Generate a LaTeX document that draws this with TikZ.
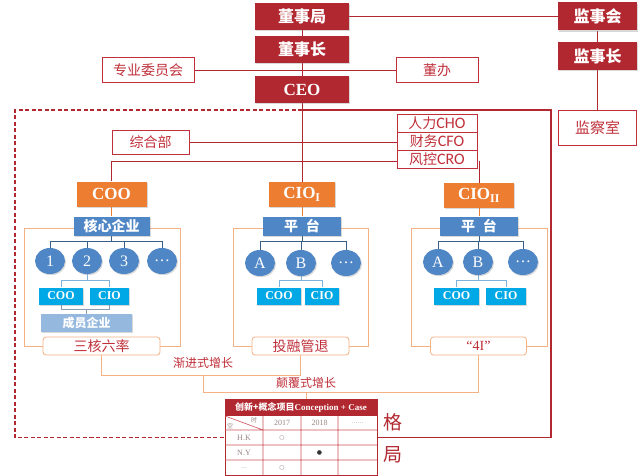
\documentclass[tikz,border=0pt]{standalone}
\usepackage{fontspec}
\setmainfont{Liberation Serif}
\newfontfamily\cjk{Noto Sans CJK SC}
\newfontfamily\dejavu{DejaVu Sans}
\newfontfamily\carlito{Carlito}
\usetikzlibrary{shapes.geometric,shadows,backgrounds}
\newcommand\fsz[1]{\fontsize{#1}{#1}\selectfont}
\definecolor{dred}{HTML}{B22830}
\definecolor{lred}{HTML}{C0303A}
\definecolor{orangeC}{HTML}{ED7D31}
\definecolor{blueC}{HTML}{4F86C6}
\definecolor{cyanC}{HTML}{00A8E6}
\definecolor{memC}{HTML}{95B8DE}
\definecolor{frameO}{HTML}{F4B183}
\definecolor{treeC}{HTML}{3A5F85}
\definecolor{ltblue}{HTML}{7FB3DC}
\definecolor{greyB}{HTML}{8A9BB0}
\definecolor{tgrey}{HTML}{9A8585}
\definecolor{gridC}{HTML}{D0505A}
\begin{document}
\begin{tikzpicture}[x=1pt,y=-1pt,
  shd/.style={drop shadow={shadow xshift=1pt,shadow yshift=-1.2pt,opacity=0.3}},
  redbox/.style={shd,fill=dred,text=white,font=\cjk\bfseries\fsz{16},inner sep=0pt,minimum height=27pt},
  outbox/.style={draw=lred,line width=0.8pt,fill=white,text=lred,font=\cjk\fsz{14},inner sep=0pt},
  obox/.style={shd,fill=orangeC,text=white,font=\bfseries\fsz{17},minimum height=25pt,inner sep=0pt},
  bbox/.style={shd,fill=blueC,text=white,font=\cjk\bfseries\fsz{14},minimum height=19pt,inner sep=0pt},
  circ/.style={shd,ellipse,fill=blueC,text=white,font=\fsz{16},minimum width=30pt,minimum height=26pt,inner sep=0pt},
  cbox/.style={shd,fill=cyanC,text=white,font=\bfseries\fsz{12},minimum height=17pt,inner sep=0pt},
  rbox/.style={draw=frameO,line width=0.8pt,rounded corners=3pt,fill=white,text=lred,font=\cjk\fsz{14},minimum height=18pt,inner sep=0pt},
  lbl/.style={text=lred,font=\cjk\fsz{12},inner sep=0pt},
  tcell/.style={text=tgrey,font=\fsz{8},inner sep=0pt},
  rl/.style={draw=dred,line width=0.8pt},
  ol/.style={draw=orangeC,line width=0.8pt},
  tl/.style={draw=treeC,line width=0.8pt},
  bl/.style={draw=ltblue,line width=0.8pt},
  gl/.style={draw=greyB,line width=0.8pt},
  brk/.style={draw=frameO,line width=0.9pt},
  fo/.style={draw=frameO,line width=0.9pt}
]
\useasboundingbox (0,0) rectangle (640,476);
% top level
\node[redbox,minimum width=94pt] (dsj) at (302,16.5) {董事局};
\node[redbox,minimum width=79pt,minimum height=28pt] (jsh) at (597.5,16.5) {监事会};
\node[redbox,minimum width=94pt,minimum height=27pt] (dsz) at (302,49.5) {董事长};
\node[redbox,minimum width=79pt,minimum height=28pt] (jsz) at (597.5,56) {监事长};
\node[outbox,minimum width=92pt,minimum height=25pt] (zy) at (148,70) {专业委员会};
\node[outbox,minimum width=82pt,minimum height=25pt] (db) at (437,70) {董办};
\node[redbox,font=\bfseries\fsz{17},minimum width=94pt] (ceo) at (302,89.5) {CEO};
\node[outbox,minimum width=78pt,minimum height=35pt,font=\cjk\fsz{15}] (jcs) at (597.5,127.5) {监察室};
\node[outbox,minimum width=80pt,minimum height=18pt,font=\cjk\fsz{14}] (cho) at (437,123) {人力{\carlito\fsz{16}CHO}};
\node[outbox,minimum width=80pt,minimum height=18pt,font=\cjk\fsz{14}] (cfo) at (437,141) {财务{\carlito\fsz{16}CFO}};
\node[outbox,minimum width=80pt,minimum height=18pt,font=\cjk\fsz{14}] (cro) at (437,159) {风控{\carlito\fsz{16}CRO}};
\node[outbox,minimum width=77pt,minimum height=24pt] (zhb) at (150.5,142) {综合部};
% orange heads
\node[obox,minimum width=70pt] (coo) at (111.5,194) {COO};
\node[obox,minimum width=66pt] (cio1) at (302,194.5) {CIO\textsubscript{I}};
\node[obox,minimum width=70pt] (cio2) at (479,195.5) {CIO\textsubscript{II}};
% blue
\node[bbox,minimum width=76pt] (hx) at (111.5,226) {核心企业};
\node[bbox,minimum width=78pt] (pt1) at (302,226) {平\hspace{8pt}台};
\node[bbox,minimum width=78pt] (pt2) at (479,226) {平\hspace{8pt}台};
% circles
\node[circ] (c1) at (50,261) {1};
\node[circ] (c2) at (87,261) {2};
\node[circ] (c3) at (124,261) {3};
\node[circ] (c4) at (162,261) {…};
\node[circ] (ma) at (260,263) {A};
\node[circ] (mb) at (301,263) {B};
\node[circ] (mc) at (346,263) {…};
\node[circ] (ra) at (438,262) {A};
\node[circ] (rb) at (478,262) {B};
\node[circ] (rc) at (523,262) {…};
% small boxes
\node[cbox,minimum width=44pt] (lcoo) at (61,296) {COO};
\node[cbox,minimum width=39pt] (lcio) at (109.5,296) {CIO};
\node[cbox,minimum width=44pt] (mcoo) at (279,296) {COO};
\node[cbox,minimum width=34pt] (mcio) at (322,296) {CIO};
\node[cbox,minimum width=45pt] (rcoo) at (456.5,296) {COO};
\node[cbox,minimum width=40pt] (rcio) at (506,296) {CIO};
\node[shd,fill=memC,text=white,font=\cjk\bfseries\fsz{12},minimum width=91pt,minimum height=18pt,inner sep=0pt] (cy) at (86.5,323) {成员企业};
% results
\node[rbox,minimum width=117pt] (shl) at (101.5,346) {三核六率};
\node[rbox,minimum width=97pt] (trg) at (300.5,346) {投融管退};
\node[rbox,minimum width=96pt,font=\fsz{14}] (fi) at (478.5,346) {“4I”};
\node[lbl] (jj) at (203,363) {渐进式增长};
\node[lbl] (df) at (306,383) {颠覆式增长};
% table
\node[draw=dred,line width=1pt,minimum width=152pt,minimum height=76pt,inner sep=0pt] (tbl) at (301,437.5) {};
\fill[dred] (tbl.north west) rectangle (377,416);
\node[text=white,inner sep=0pt] (th) at (301,408) {{\cjk\bfseries\fsz{9}创新+概念项目}{\bfseries\fsz{9}Conception + Case}};
\draw[draw=gridC,line width=0.6pt] (225,430) -- (377,430) (225,445) -- (377,445) (225,460) -- (377,460)
  (263,416) -- (263,475.5) (301,416) -- (301,475.5) (338,416) -- (338,475.5) (225,416) -- (263,430);
\node[tcell,font=\cjk\fsz{6}] (tsh) at (254,420) {时};
\node[tcell,font=\cjk\fsz{6}] (tkg) at (230,426) {空};
\node[tcell] (y17) at (282,423) {2017};
\node[tcell] (y18) at (319.5,423) {2018};
\node[tcell,font=\fsz{6}] (ydd) at (357.5,423) {……};
\node[tcell] (hk) at (244,437.5) {H.K};
\node[tcell] (ny) at (244,452.5) {N.Y};
\node[tcell,font=\fsz{6}] (dd) at (244,468) {…};
\node[tcell,font=\dejavu\fsz{6}] (m1) at (282,437.5) {○};
\node[text=black!80,inner sep=0pt,font=\dejavu\fsz{6}] (m2) at (319.5,452.5) {●};
\node[tcell,font=\dejavu\fsz{6}] (m3) at (282,468) {○};
\node[text=dred,font=\cjk\fsz{19},inner sep=0pt] (ge) at (393,422) {格};
\node[text=dred,font=\cjk\fsz{19},inner sep=0pt] (ju) at (393,455) {局};
% coordinates
\coordinate (fA) at (302,110);
\coordinate (fB) at (15,110);
\coordinate (fC) at (15,437.5);
\coordinate (fD) at (551,110);
\coordinate (fE) at (551,437.5);
\coordinate (b1) at (101.5,375);
\coordinate (b2) at (300.5,375);
\coordinate (b3) at (203,375);
\coordinate (b4) at (203,392);
\coordinate (b5) at (478.5,392);
\coordinate (b6) at (306,392);
\begin{scope}[on background layer]
\fill[white] (0,0) rectangle (640,476);
% frames
\draw[fo] (24,228) rectangle (180,346);
\draw[fo] (233,228) rectangle (368,346);
\draw[fo] (411,228) rectangle (547,346);
\draw[dred,line width=1.2pt,dash pattern=on 4pt off 2.5pt] (fA) -- (fB) -- (fC) -- (tbl.west);
\draw[dred,line width=1.2pt] (fA) -- (fD) -- (fE) -- (tbl.east);
% top connectors
\draw[rl] (dsj) -- (jsh);
\draw[rl] (dsj) -- (cio1);
\draw[rl] (zy) -- (db);
\draw[rl] (jsh) -- (jcs);
\draw[rl] (zhb.east) -- (zhb.east -| cfo.west);
\draw[rl] ([yshift=-2pt]cro.west) -| (coo.north);
\draw[rl] (cio2.north) -- ([yshift=-2pt]cio2.north |- cro.east);
% orange
\draw[ol] (coo) -- (hx);
\draw[ol] (cio1) -- (pt1);
\draw[ol] (cio2) -- (pt2);
% trees
\draw[tl] (hx.south) -- ++(0,6.5);
\draw[tl] (c1.north) -- ++(0,-6) -| (c4.north);
\draw[tl] (c2.north) -- ++(0,-6);
\draw[tl] (c3.north) -- ++(0,-6);
\draw[tl] (pt1.south) -- ++(0,6.5);
\draw[tl] (ma.north) -- ++(0,-8) -| (mc.north);
\draw[tl] (mb.north) -- ++(0,-8);
\draw[tl] (pt2.south) -- ++(0,6.5);
\draw[tl] (ra.north) -- ++(0,-7) -| (rc.north);
\draw[tl] (rb.north) -- ++(0,-7);
% light blue
\draw[bl] (c2.south) -- ++(0,7);
\draw[bl] (lcoo.north) -- ++(0,-6.5) -| (lcio.north);
\draw[bl] (mb.south) -- ++(0,5);
\draw[bl] (mcoo.north) -- ++(0,-6.5) -| (mcio.north);
\draw[bl] (rb.south) -- ++(0,6);
\draw[bl] (rcoo.north) -- ++(0,-7) -| (rcio.north);
\draw[gl] (lcoo.south) -- ++(0,5) -| (lcio.south);
\draw[gl] (cy.north) -- ++(0,-5);
% brackets
\draw[brk] (shl.south) -- (b1) -- (b2) -- (trg.south);
\draw[brk] (b3) -- (b4) -- (b5) -- (fi.south);
\draw[brk] (b6) -- (b6 |- tbl.north);
\end{scope}
\end{tikzpicture}
\end{document}
